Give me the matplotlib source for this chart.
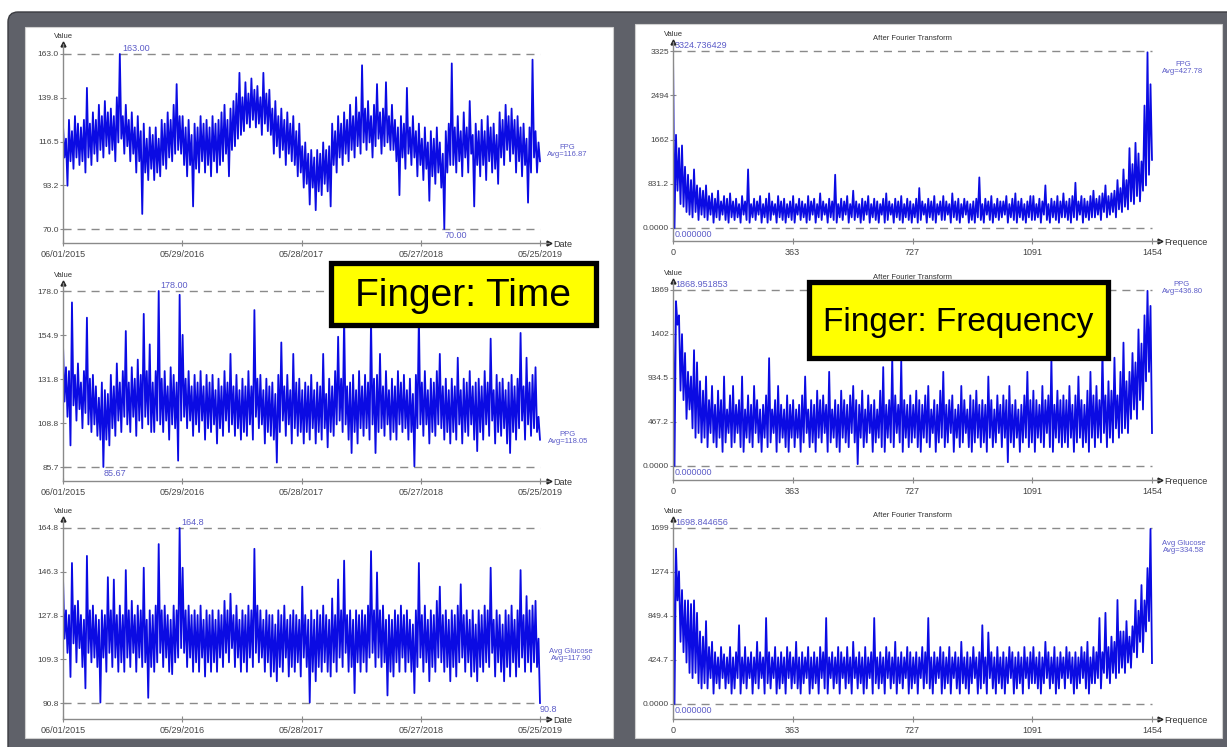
import matplotlib.pyplot as plt
import numpy as np
from matplotlib.patches import Rectangle, FancyBboxPatch

plt.rcParams['font.family'] = ['Liberation Sans', 'DejaVu Sans']

W, H = 1227, 747

# Each noisy trace is read off the picture as a run of local peaks (hi) and
# troughs (lo), 160 of each, left to right; the drawn line alternates hi/lo.

# --- time domain, 06/01/2015 .. 05/25/2019 ---
fpg_hi = [125, 118, 128, 122, 130, 126, 124, 128, 145, 126,
          132, 128, 136, 130, 138, 132, 134, 130, 140, 163,
          130, 136, 128, 132, 124, 130, 122, 126, 118, 124,
          120, 124, 118, 128, 126, 132, 128, 136, 147, 130,
          130, 124, 128, 120, 126, 124, 130, 126, 128, 124,
          130, 126, 128, 132, 136, 128, 134, 138, 142, 153,
          140, 148, 142, 150, 144, 146, 140, 153, 142, 144,
          134, 138, 130, 134, 128, 132, 126, 130, 122, 126,
          114, 116, 110, 112, 108, 112, 110, 116, 112, 114,
          126, 122, 130, 126, 132, 128, 136, 130, 140, 132,
          157, 134, 138, 130, 136, 147, 132, 134, 148, 130,
          136, 128, 124, 130, 126, 145, 124, 130, 122, 126,
          118, 124, 116, 122, 118, 124, 116, 110, 122, 126,
          158, 124, 130, 122, 132, 124, 138, 120, 126, 122,
          128, 122, 130, 124, 126, 120, 132, 128, 136, 130,
          134, 128, 130, 124, 126, 118, 124, 160, 122, 116]
fpg_lo = [108, 93, 106, 102, 108, 104, 106, 100, 108, 104,
          110, 106, 112, 108, 114, 110, 112, 106, 116, 118,
          110, 114, 106, 110, 100, 106, 78, 100, 96, 102,
          96, 100, 98, 104, 102, 108, 106, 110, 112, 110,
          104, 98, 104, 82, 102, 100, 106, 100, 104, 98,
          106, 100, 104, 106, 110, 98, 112, 114, 118, 120,
          122, 126, 124, 128, 124, 126, 120, 126, 122, 120,
          110, 114, 108, 112, 104, 110, 106, 104, 98, 100,
          92, 94, 83, 92, 80, 90, 88, 94, 90, 82,
          104, 100, 108, 104, 110, 106, 112, 108, 114, 110,
          116, 112, 116, 108, 114, 118, 110, 114, 116, 112,
          112, 106, 88, 108, 102, 110, 104, 108, 98, 104,
          96, 102, 85, 98, 94, 100, 92, 70, 100, 104,
          104, 100, 106, 98, 108, 100, 110, 82, 104, 98,
          104, 96, 106, 100, 102, 94, 108, 104, 112, 106,
          110, 100, 106, 98, 104, 84, 100, 108, 100, 106]

ppg_hi = [150, 138, 136, 172, 134, 140, 130, 136, 164, 132,
          134, 128, 122, 130, 126, 124, 134, 128, 140, 130,
          136, 157, 130, 138, 132, 142, 134, 166, 136, 150,
          130, 136, 178, 132, 136, 128, 138, 134, 130, 176,
          155, 132, 136, 128, 134, 130, 136, 128, 134, 130,
          134, 126, 132, 128, 136, 130, 145, 128, 134, 126,
          132, 128, 136, 128, 168, 132, 134, 126, 132, 128,
          130, 124, 134, 151, 128, 134, 126, 145, 130, 132,
          126, 130, 128, 134, 126, 130, 128, 145, 124, 132,
          128, 136, 154, 132, 165, 128, 130, 134, 126, 136,
          128, 134, 130, 163, 132, 134, 145, 128, 136, 126,
          132, 128, 136, 130, 134, 126, 132, 124, 134, 165,
          130, 136, 126, 132, 130, 136, 145, 128, 132, 126,
          132, 128, 143, 126, 132, 130, 136, 128, 130, 132,
          128, 136, 130, 153, 126, 134, 130, 132, 126, 130,
          134, 128, 132, 156, 128, 143, 130, 134, 138, 112]
ppg_lo = [120, 112, 97, 118, 110, 116, 106, 114, 108, 104,
          108, 102, 100, 85.67, 100, 97, 106, 102, 110, 104,
          112, 108, 104, 112, 102, 110, 106, 112, 108, 104,
          104, 110, 108, 104, 110, 100, 108, 106, 89, 110,
          112, 106, 110, 102, 108, 104, 110, 100, 106, 104,
          108, 98, 106, 102, 110, 104, 108, 102, 106, 100,
          104, 102, 108, 100, 112, 106, 108, 98, 104, 102,
          100, 88, 104, 110, 102, 108, 98, 106, 102, 104,
          98, 104, 100, 106, 98, 104, 100, 106, 96, 104,
          102, 108, 110, 104, 108, 100, 93, 104, 98, 106,
          102, 106, 100, 108, 93, 104, 106, 102, 108, 100,
          104, 100, 108, 104, 106, 100, 104, 86, 106, 108,
          102, 108, 98, 104, 102, 108, 106, 100, 104, 98,
          104, 100, 108, 98, 104, 102, 108, 100, 94, 104,
          100, 108, 102, 110, 98, 104, 102, 106, 98, 93,
          104, 100, 106, 110, 100, 108, 102, 106, 104, 100]

glu_hi = [144, 130, 128, 150, 132, 134, 128, 126, 153, 130,
          132, 128, 126, 130, 128, 144, 130, 143, 128, 132,
          128, 147, 130, 134, 128, 132, 130, 148, 126, 130,
          128, 132, 158, 130, 132, 128, 126, 132, 130, 164.8,
          148, 130, 132, 128, 130, 128, 132, 126, 130, 128,
          130, 126, 130, 128, 134, 130, 137, 128, 132, 126,
          130, 128, 132, 130, 156, 132, 130, 126, 130, 128,
          128, 124, 130, 128, 132, 126, 128, 130, 128, 126,
          140, 128, 126, 130, 126, 130, 128, 132, 128, 126,
          135, 128, 143, 130, 151, 128, 130, 126, 130, 128,
          130, 128, 132, 155, 130, 146, 130, 132, 126, 128,
          126, 130, 128, 132, 128, 130, 126, 124, 130, 150,
          128, 132, 126, 130, 128, 134, 140, 128, 130, 126,
          130, 128, 132, 141, 128, 130, 126, 130, 124, 130,
          128, 132, 130, 148, 126, 130, 128, 124, 130, 128,
          132, 126, 130, 147, 128, 136, 130, 132, 134, 118]
glu_lo = [118, 112, 101.8, 116, 108, 114, 106, 97, 112, 108,
          110, 106, 91, 110, 104, 112, 106, 110, 104, 108,
          104, 110, 106, 112, 104, 110, 106, 108, 93, 106,
          104, 108, 112, 106, 110, 104, 103, 108, 110, 114,
          112, 106, 110, 104, 108, 104, 110, 102, 108, 104,
          108, 104, 110, 106, 112, 108, 114, 106, 110, 104,
          108, 104, 110, 106, 112, 108, 110, 104, 108, 102,
          104, 100, 106, 104, 110, 102, 106, 104, 108, 102,
          110, 106, 91, 104, 100, 106, 104, 108, 104, 102,
          108, 104, 110, 106, 112, 104, 106, 95, 108, 104,
          108, 104, 110, 112, 106, 110, 106, 108, 94, 104,
          102, 108, 104, 110, 104, 108, 104, 95, 106, 110,
          104, 108, 100, 106, 104, 110, 108, 104, 106, 100,
          106, 102, 108, 110, 104, 108, 102, 104, 100, 106,
          104, 108, 106, 112, 102, 108, 104, 100, 106, 102,
          108, 102, 106, 110, 104, 108, 104, 108, 106, 90.8]

# --- after Fourier transform, frequence 0 .. 1454 ---
fpg_f_hi = [3324.736429, 1750, 1500, 1550, 1150, 1000, 900, 1100, 800, 750,
            700, 800, 600, 650, 550, 700, 500, 600, 550, 650,
            500, 550, 450, 600, 500, 1100, 450, 550, 500, 600,
            450, 550, 650, 500, 450, 600, 500, 550, 450, 500,
            600, 450, 550, 500, 450, 600, 500, 550, 450, 650,
            500, 450, 550, 500, 1000, 450, 550, 500, 600, 450,
            700, 500, 450, 550, 500, 600, 450, 550, 500, 450,
            550, 650, 500, 450, 550, 500, 600, 450, 550, 500,
            450, 550, 750, 500, 450, 550, 500, 600, 450, 500,
            600, 500, 450, 650, 500, 550, 450, 550, 500, 450,
            500, 550, 950, 450, 550, 500, 600, 450, 550, 500,
            500, 600, 450, 550, 650, 500, 550, 450, 500, 600,
            600, 450, 550, 500, 800, 450, 550, 500, 600, 500,
            650, 500, 550, 600, 850, 500, 600, 550, 500, 600,
            700, 550, 600, 650, 800, 600, 650, 700, 900, 750,
            1100, 900, 1500, 1200, 1600, 1400, 1250, 2300, 3300, 2700]
fpg_f_lo = [0, 700, 450, 400, 300, 250, 200, 300, 150, 250,
            200, 150, 250, 100, 200, 150, 250, 150, 100, 200,
            150, 200, 100, 250, 150, 100, 200, 150, 250, 100,
            200, 100, 150, 250, 100, 200, 150, 100, 200, 150,
            100, 250, 150, 200, 100, 150, 250, 100, 200, 150,
            250, 100, 200, 150, 100, 200, 150, 250, 100, 200,
            150, 200, 100, 150, 250, 100, 200, 150, 100, 250,
            100, 150, 250, 100, 200, 150, 100, 200, 150, 100,
            200, 100, 150, 250, 100, 200, 150, 100, 250, 150,
            150, 250, 100, 200, 150, 100, 200, 250, 100, 150,
            100, 200, 150, 100, 250, 150, 100, 200, 150, 200,
            250, 100, 200, 150, 100, 200, 150, 100, 200, 150,
            150, 200, 100, 250, 150, 100, 200, 150, 100, 200,
            200, 150, 100, 200, 150, 250, 100, 200, 150, 200,
            200, 250, 150, 300, 200, 250, 300, 200, 350, 300,
            400, 350, 500, 450, 600, 500, 700, 800, 1000, 1280]

ppg_f_hi = [1868.951853, 1750, 1600, 1400, 1200, 1000, 950, 1230, 1100, 900,
            800, 950, 700, 850, 650, 800, 700, 950, 600, 750,
            850, 650, 700, 950, 600, 750, 650, 850, 700, 600,
            650, 750, 1145, 600, 700, 850, 650, 600, 750, 650,
            700, 600, 650, 750, 950, 600, 700, 650, 800, 700,
            750, 650, 1000, 600, 700, 650, 800, 700, 650, 750,
            850, 700, 650, 800, 600, 750, 650, 700, 600, 800,
            1050, 650, 700, 1150, 750, 650, 1120, 700, 650, 750,
            650, 800, 700, 650, 750, 850, 600, 700, 650, 800,
            1000, 650, 700, 750, 600, 650, 850, 700, 600, 750,
            700, 800, 650, 700, 650, 950, 700, 600, 750, 650,
            750, 700, 850, 650, 700, 600, 650, 750, 1000, 700,
            800, 700, 650, 850, 700, 750, 1150, 650, 800, 700,
            750, 700, 850, 650, 750, 950, 700, 650, 800, 1000,
            750, 850, 700, 1230, 750, 900, 800, 1150, 750, 1000,
            1310, 900, 1000, 1200, 1100, 1450, 1300, 1600, 1860, 1700]
ppg_f_lo = [0, 1500, 800, 700, 500, 600, 400, 300, 350, 250,
            300, 200, 350, 250, 200, 300, 150, 250, 350, 200,
            250, 350, 200, 150, 300, 250, 200, 350, 250, 150,
            300, 200, 250, 350, 150, 250, 300, 200, 150, 300,
            200, 300, 150, 250, 350, 200, 250, 150, 300, 250,
            350, 150, 250, 300, 200, 150, 300, 250, 200, 350,
            250, 20, 300, 200, 250, 350, 150, 250, 300, 200,
            150, 300, 250, 200, 350, 250, 150, 300, 200, 250,
            300, 200, 150, 300, 250, 200, 350, 150, 250, 300,
            200, 250, 350, 150, 300, 200, 250, 350, 200, 150,
            250, 300, 200, 250, 150, 300, 200, 250, 350, 200,
            300, 40, 250, 200, 300, 150, 250, 300, 200, 250,
            150, 300, 250, 200, 350, 200, 150, 300, 250, 200,
            250, 200, 300, 150, 250, 300, 200, 250, 150, 300,
            200, 300, 250, 350, 200, 300, 250, 400, 300, 350,
            400, 350, 500, 600, 500, 700, 600, 900, 1000, 350]

glu_f_hi = [1698.844656, 1500, 1280, 1100, 1000, 1000, 965, 1000, 880, 700,
            650, 800, 550, 600, 500, 450, 550, 480, 450, 550,
            450, 500, 760, 450, 550, 450, 500, 450, 600, 500,
            450, 830, 500, 450, 550, 450, 500, 450, 550, 500,
            450, 600, 450, 500, 450, 550, 450, 500, 450, 550,
            500, 830, 450, 500, 450, 550, 500, 450, 550, 450,
            600, 450, 500, 450, 550, 450, 500, 830, 450, 500,
            450, 550, 500, 450, 600, 450, 500, 450, 550, 500,
            450, 500, 450, 550, 500, 830, 450, 500, 450, 550,
            500, 450, 550, 450, 500, 450, 600, 450, 500, 450,
            550, 450, 500, 760, 450, 690, 500, 450, 550, 450,
            500, 450, 550, 500, 450, 500, 450, 550, 450, 500,
            550, 450, 500, 450, 600, 500, 450, 550, 450, 500,
            450, 550, 500, 450, 500, 450, 550, 500, 600, 450,
            550, 500, 830, 500, 880, 550, 650, 600, 1004, 700,
            700, 800, 650, 750, 1004, 900, 1148, 1000, 1312, 1690]
glu_f_lo = [0, 1000, 600, 500, 400, 300, 250, 300, 200, 150,
            200, 150, 250, 100, 200, 150, 250, 150, 200, 100,
            150, 250, 100, 200, 150, 250, 100, 200, 150, 250,
            100, 200, 150, 250, 100, 150, 200, 100, 250, 150,
            200, 150, 100, 200, 250, 100, 150, 200, 100, 250,
            150, 100, 250, 150, 200, 100, 250, 150, 200, 100,
            250, 150, 200, 100, 150, 250, 100, 200, 150, 200,
            100, 250, 150, 200, 100, 200, 150, 250, 100, 150,
            200, 100, 250, 150, 200, 150, 100, 200, 250, 100,
            150, 200, 100, 250, 150, 100, 200, 150, 100, 200,
            250, 100, 150, 200, 100, 250, 150, 100, 200, 150,
            100, 200, 250, 100, 150, 200, 100, 250, 150, 200,
            200, 150, 100, 200, 250, 150, 200, 100, 150, 250,
            150, 250, 200, 100, 150, 200, 250, 150, 100, 200,
            200, 250, 150, 300, 250, 200, 300, 250, 300, 350,
            300, 400, 350, 500, 450, 600, 500, 700, 800, 395]

x_ticks = [0, 363, 727, 1091, 1454]
date_labels = ['06/01/2015', '05/29/2016', '05/28/2017', '05/27/2018', '05/25/2019']
freq_labels = ['0', '363', '727', '1091', '1454']

fpg_yt = ['70.0', '93.2', '116.5', '139.8', '163.0']
ppg_yt = ['85.7', '108.8', '131.8', '154.9', '178.0']
glu_yt = ['90.8', '109.3', '127.8', '146.3', '164.8']
fpg_f_yt = ['0.0000', '831.2', '1662', '2494', '3325']
ppg_f_yt = ['0.0000', '467.2', '934.5', '1402', '1869']
glu_f_yt = ['0.0000', '424.7', '849.4', '1274', '1699']

names = ['FPG', 'PPG', 'Avg Glucose']
avg_time = ['116.87', '118.05', '117.90']
avg_freq = ['427.78', '436.80', '334.58']
max_time_lbl = ['163.00', '178.00', '164.8']
min_time_lbl = ['70.00', '85.67', '90.8']
max_freq_lbl = ['3324.736429', '1868.951853', '1698.844656']
min_freq_lbl = ['0.000000', '0.000000', '0.000000']

BLUE = '#0b0be3'
LBL = '#5c5cc8'
AXC = '#8a8a8a'


def trace(hi, lo):
    return np.column_stack([hi, lo]).ravel()


fig = plt.figure(figsize=(W / 100, H / 100), dpi=100, facecolor='white')

# background + white panels
bg = fig.add_axes([0, 0, 1, 1])
bg.set_xlim(0, W)
bg.set_ylim(H, 0)
bg.axis('off')
bg.add_patch(FancyBboxPatch((8, 12), W + 20, H + 20, boxstyle='round,pad=0,rounding_size=10',
                            facecolor='#5f6169', edgecolor='#3a3b40', lw=1))
bg.add_patch(Rectangle((25, 27), 588, 711, facecolor='white', edgecolor='#d0d0d0', lw=0.8))
bg.add_patch(Rectangle((635, 24), 587, 714, facecolor='white', edgecolor='#d0d0d0', lw=0.8))


def panel(x0, x1, xa, top, pmax, pmin, bot, vals, ylabels, xlabels, xname,
          max_lbl, min_lbl):
    ax = fig.add_axes([x0 / W, 1 - bot / H, (xa - x0) / W, (bot - top) / H])
    ax.set_facecolor('none')
    xs = np.linspace(0, 1454, len(vals))
    vmax, vmin = max(vals), min(vals)
    s = (pmin - pmax) / (vmax - vmin)
    ax.set_ylim(vmin - (bot - pmin) / s, vmax + (pmax - top) / s)
    ax.set_xlim(0, 1454 * (xa - x0) / (x1 - x0))
    ax.hlines([vmax, vmin], 0, 1454, colors=AXC, linestyles=(0, (5.8, 4.3)), lw=1.0)
    ax.plot(xs, vals, color=BLUE, lw=1.3)
    for sp in ['top', 'right']:
        ax.spines[sp].set_visible(False)
    for sp in ['left', 'bottom']:
        ax.spines[sp].set_color(AXC)
        ax.spines[sp].set_linewidth(1.0)
    ax.set_yticks(np.linspace(vmin, vmax, 5))
    ax.set_yticklabels(ylabels)
    ax.set_xticks(x_ticks)
    ax.set_xticklabels(xlabels)
    ax.tick_params(axis='y', direction='inout', length=4, width=0.8, color=AXC,
                   labelsize=6, labelcolor='#444444', pad=1)
    ax.tick_params(axis='x', direction='inout', length=4, width=0.8, color=AXC,
                   labelsize=6.5, labelcolor='#444444', pad=3)
    ax.plot(0, 1, marker='^', color='#222222', markersize=3.5, transform=ax.transAxes, clip_on=False)
    ax.plot(1, 0, marker='>', color='#222222', markersize=3.5, transform=ax.transAxes, clip_on=False)
    ax.annotate('Value', (0, 1), xycoords='axes fraction', xytext=(0, 3), textcoords='offset points',
                ha='center', va='bottom', fontsize=5.5, color='#333333')
    ax.annotate(xname, (1, 0), xycoords='axes fraction', xytext=(3, -1), textcoords='offset points',
                ha='left', va='center', fontsize=6.5, color='#333333')
    imax = int(np.argmax(vals))
    imin = int(np.argmin(vals))
    ax.annotate(max_lbl, (xs[imax], vmax), xytext=(1.5, 1), textcoords='offset points',
                ha='left', va='bottom', fontsize=6.5, color=LBL)
    ax.annotate(min_lbl, (xs[imin], vmin), xytext=(0, -1.5), textcoords='offset points',
                ha='left', va='top', fontsize=6.5, color=LBL)
    return ax


left_rows = [(44, 54, 229, 243), (283, 291, 467, 481), (519, 528, 703, 719)]
right_rows = [(42, 51, 228, 241), (281, 290, 466, 480), (519, 528, 704, 719)]
time_data = [trace(fpg_hi, fpg_lo), trace(ppg_hi, ppg_lo), trace(glu_hi, glu_lo)]
freq_data = [trace(fpg_f_hi, fpg_f_lo), trace(ppg_f_hi, ppg_f_lo), trace(glu_f_hi, glu_f_lo)]
time_yt = [fpg_yt, ppg_yt, glu_yt]
freq_yt = [fpg_f_yt, ppg_f_yt, glu_f_yt]

for k in range(3):
    t, pmx, pmn, b = left_rows[k]
    panel(63, 540, 549, t, pmx, pmn, b, time_data[k], time_yt[k], date_labels, 'Date',
          max_time_lbl[k], min_time_lbl[k])
    t, pmx, pmn, b = right_rows[k]
    ax = panel(673, 1152, 1160, t, pmx, pmn, b, freq_data[k], freq_yt[k], freq_labels, 'Frequence',
               max_freq_lbl[k], min_freq_lbl[k])
    ax.text(727, 1.0, 'After Fourier Transform', transform=ax.get_xaxis_transform(),
            ha='center', va='bottom', fontsize=5.5, color='#333333')

# overlay: side labels and yellow boxes
ov = fig.add_axes([0, 0, 1, 1])
ov.set_facecolor('none')
ov.set_xlim(0, W)
ov.set_ylim(H, 0)
ov.axis('off')

side_time = [(567, 151), (568, 438), (571, 655)]
side_freq = [(1183, 68), (1182, 288), (1184, 547)]
for k in range(3):
    ov.text(side_time[k][0], side_time[k][1], names[k] + '\nAvg=' + avg_time[k], ha='center',
            va='center', fontsize=5.5, color=LBL, linespacing=1.1)
    ov.text(side_freq[k][0], side_freq[k][1], names[k] + '\nAvg=' + avg_freq[k], ha='center',
            va='center', fontsize=5.5, color=LBL, linespacing=1.1)

ov.add_patch(Rectangle((331, 263), 265, 62, facecolor='#ffff00', edgecolor='black', lw=3.8))
ov.text(463, 296, 'Finger: Time', ha='center', va='center', fontsize=28, color='black')
ov.add_patch(Rectangle((809, 282), 299, 76, facecolor='#ffff00', edgecolor='black', lw=3.8))
ov.text(958, 322, 'Finger: Frequency', ha='center', va='center', fontsize=24, color='black')

fig.savefig('out.png', dpi=100)
